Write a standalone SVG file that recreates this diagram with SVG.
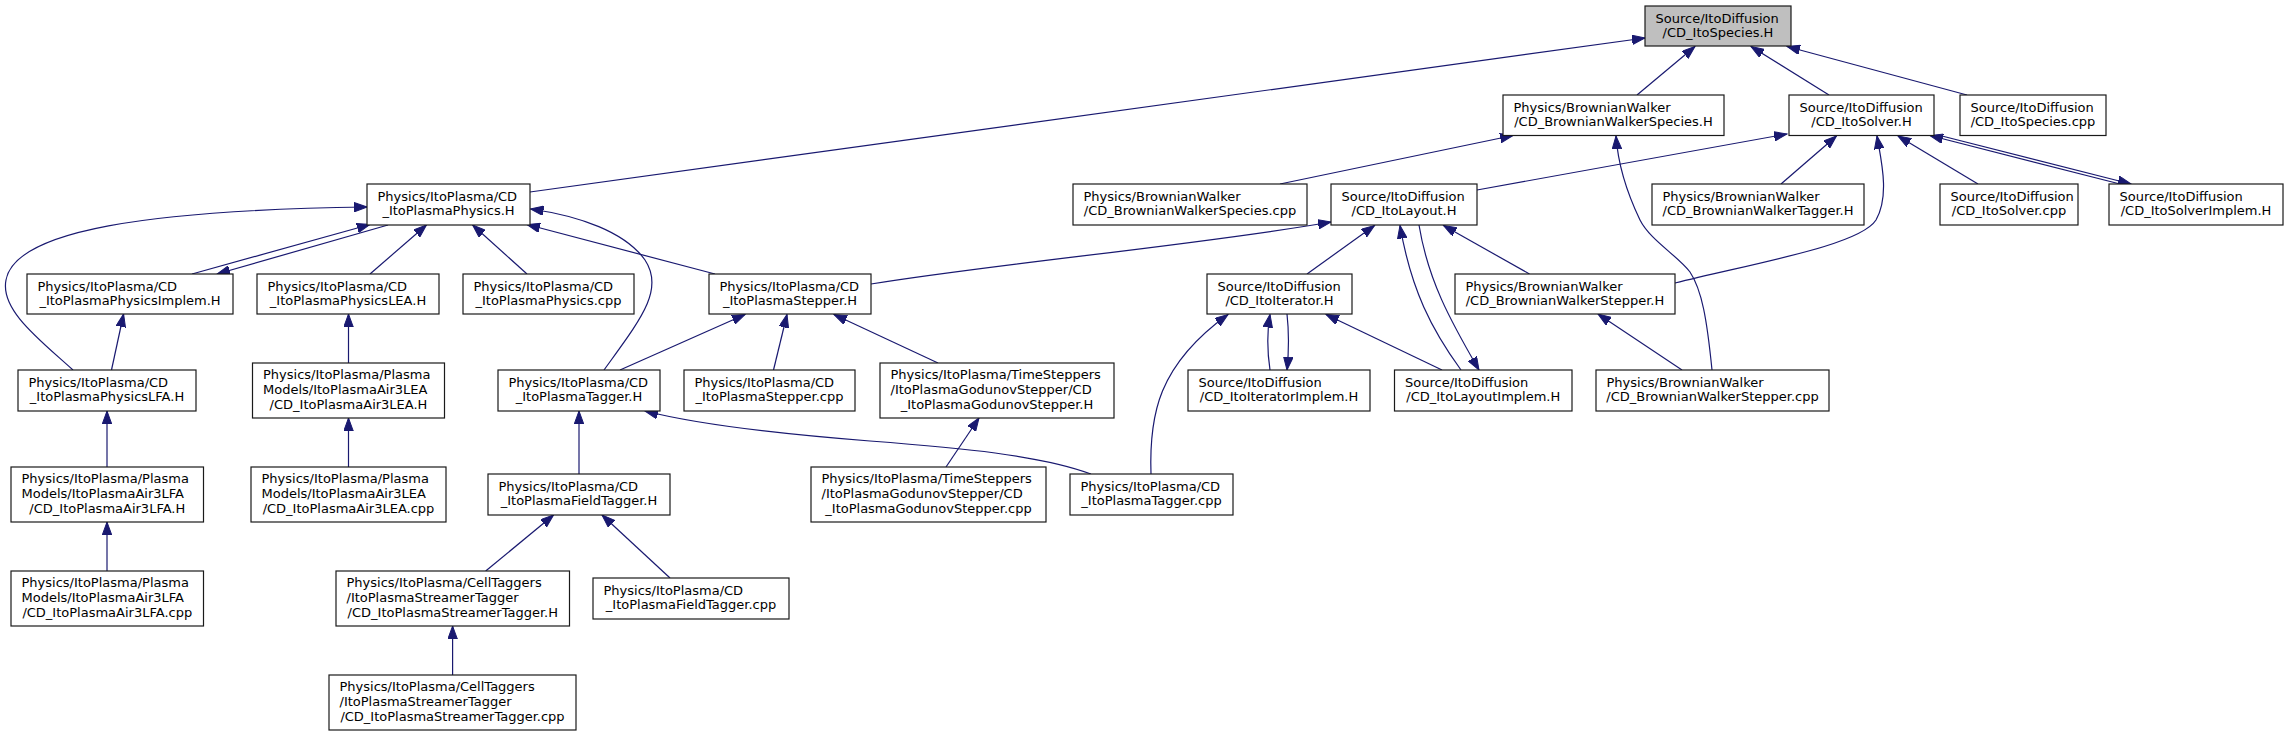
<svg xmlns="http://www.w3.org/2000/svg" width="2289" height="736" viewBox="0 0 2289 736">
<style>
.n rect{fill:#fff;stroke:#1a1a1a;stroke-width:1.2}
.n.main rect{fill:#bfbfbf}
.n text{font-family:"DejaVu Sans","Liberation Sans",sans-serif;font-size:13px;fill:#000}
.n text.c{text-anchor:middle}
#edges path{fill:none;stroke:#191970;stroke-width:1.2;marker-end:url(#ah)}
</style>
<defs>
<marker id="ah" markerUnits="userSpaceOnUse" markerWidth="14" markerHeight="10" refX="13" refY="4.75" orient="auto"><path d="M0,0 L13,4.75 L0,9.5 z" fill="#191970" stroke="#191970" stroke-width="1"/></marker>
</defs>
<rect width="2289" height="736" fill="#fff"/>
<g id="edges">
<path d="M530,192 L1645,38"/>
<path d="M1637,95 L1695,46.5"/>
<path d="M1829,95 L1751,46.5"/>
<path d="M1967,95 L1787,46.5"/>
<path d="M1280,184 L1513,135.5"/>
<path d="M1712,370 C1707,320 1702,290 1690,272 C1678,256 1650,240 1640,220 C1628,195 1618,165 1616,136"/>
<path d="M1477,190 L1787,134"/>
<path d="M1781,184 L1836.5,136"/>
<path d="M1675,283 C1760,262 1860,245 1876,220 C1890,195 1881,160 1877,136"/>
<path d="M1978,184 L1898,136"/>
<path d="M2120,184 L1930,135.5"/>
<path d="M1940,135.5 L2131,184"/>
<path d="M871,284 C1000,263 1200,245 1331,222"/>
<path d="M1307,274 L1374.5,225.5"/>
<path d="M1461,370 C1432,330 1411,290 1400,225.5"/>
<path d="M1419,225 C1428,280 1450,320 1479,370"/>
<path d="M1529.5,274 L1443.5,225.5"/>
<path d="M938,363 L834,314.5"/>
<path d="M773.5,370 L787,314.5"/>
<path d="M620,370 L745,314.5"/>
<path d="M1270,370 C1267,350 1267,332 1270,314.5"/>
<path d="M1287,314 C1289,332 1289,350 1287,370"/>
<path d="M1442,370 L1326,314.5"/>
<path d="M1151,474 C1149,415 1158,365 1228,314.5"/>
<path d="M1091,474 C1040,455 960,448 870,441 C780,434 700,425 645,411"/>
<path d="M946,467 L979,418"/>
<path d="M73,370 C40,340 0,310 6,280 C15,230 150,210 367,207"/>
<path d="M192,274 L370,224.5"/>
<path d="M388,225 L217,274"/>
<path d="M370,274 L426.5,225"/>
<path d="M527,274 L472.6,225"/>
<path d="M715,274 L527,224.5"/>
<path d="M604,370 C640,320 665,290 645,260 C625,232 580,216 530.5,209"/>
<path d="M111.5,370 L123.6,314"/>
<path d="M348.5,363 L348.5,314"/>
<path d="M348.5,467 L348.5,418"/>
<path d="M107,467 L107,411"/>
<path d="M107,571 L107,522"/>
<path d="M579,474 L579,411"/>
<path d="M485.7,571 L553.6,515"/>
<path d="M670,578 L602,515"/>
<path d="M452.6,675 L452.6,626"/>
<path d="M1682,370 L1598,314"/>
</g>
<g id="n0" class="n main"><rect x="1645" y="6" width="146" height="40"/><text x="1655.5" y="22.5">Source/ItoDiffusion</text><text class="c" x="1718" y="36.5">/CD_ItoSpecies.H</text></g>
<g id="n1" class="n"><rect x="1503" y="95" width="221" height="40.5"/><text x="1513.5" y="111.5">Physics/BrownianWalker</text><text class="c" x="1613.5" y="125.5">/CD_BrownianWalkerSpecies.H</text></g>
<g id="n2" class="n"><rect x="1789" y="95" width="145" height="40.5"/><text x="1799.5" y="111.5">Source/ItoDiffusion</text><text class="c" x="1861.5" y="125.5">/CD_ItoSolver.H</text></g>
<g id="n3" class="n"><rect x="1960" y="95" width="146" height="40.5"/><text x="1970.5" y="111.5">Source/ItoDiffusion</text><text class="c" x="2033" y="125.5">/CD_ItoSpecies.cpp</text></g>
<g id="n4" class="n"><rect x="367" y="184" width="163" height="41"/><text x="377.5" y="200.5">Physics/ItoPlasma/CD</text><text class="c" x="448.5" y="214.5">_ItoPlasmaPhysics.H</text></g>
<g id="n5" class="n"><rect x="1073" y="184" width="234" height="41"/><text x="1083.5" y="200.5">Physics/BrownianWalker</text><text class="c" x="1190" y="214.5">/CD_BrownianWalkerSpecies.cpp</text></g>
<g id="n6" class="n"><rect x="1331" y="184" width="146" height="41"/><text x="1341.5" y="200.5">Source/ItoDiffusion</text><text class="c" x="1404" y="214.5">/CD_ItoLayout.H</text></g>
<g id="n7" class="n"><rect x="1652" y="184" width="212" height="41"/><text x="1662.5" y="200.5">Physics/BrownianWalker</text><text class="c" x="1758" y="214.5">/CD_BrownianWalkerTagger.H</text></g>
<g id="n8" class="n"><rect x="1940" y="184" width="138" height="41"/><text x="1950.5" y="200.5">Source/ItoDiffusion</text><text class="c" x="2009" y="214.5">/CD_ItoSolver.cpp</text></g>
<g id="n9" class="n"><rect x="2109" y="184" width="174" height="41"/><text x="2119.5" y="200.5">Source/ItoDiffusion</text><text class="c" x="2196" y="214.5">/CD_ItoSolverImplem.H</text></g>
<g id="n10" class="n"><rect x="27" y="274" width="206" height="40"/><text x="37.5" y="290.5">Physics/ItoPlasma/CD</text><text class="c" x="130" y="304.5">_ItoPlasmaPhysicsImplem.H</text></g>
<g id="n11" class="n"><rect x="257" y="274" width="182" height="40"/><text x="267.5" y="290.5">Physics/ItoPlasma/CD</text><text class="c" x="348" y="304.5">_ItoPlasmaPhysicsLEA.H</text></g>
<g id="n12" class="n"><rect x="463" y="274" width="171" height="40"/><text x="473.5" y="290.5">Physics/ItoPlasma/CD</text><text class="c" x="548.5" y="304.5">_ItoPlasmaPhysics.cpp</text></g>
<g id="n13" class="n"><rect x="709" y="274" width="162" height="40"/><text x="719.5" y="290.5">Physics/ItoPlasma/CD</text><text class="c" x="790" y="304.5">_ItoPlasmaStepper.H</text></g>
<g id="n14" class="n"><rect x="1207" y="274" width="145" height="40"/><text x="1217.5" y="290.5">Source/ItoDiffusion</text><text class="c" x="1279.5" y="304.5">/CD_ItoIterator.H</text></g>
<g id="n15" class="n"><rect x="1455" y="274" width="220" height="40"/><text x="1465.5" y="290.5">Physics/BrownianWalker</text><text class="c" x="1565" y="304.5">/CD_BrownianWalkerStepper.H</text></g>
<g id="n16" class="n"><rect x="18" y="370" width="178" height="41"/><text x="28.5" y="386.5">Physics/ItoPlasma/CD</text><text class="c" x="107" y="400.5">_ItoPlasmaPhysicsLFA.H</text></g>
<g id="n17" class="n"><rect x="252.5" y="363" width="192" height="55"/><text x="263" y="379">Physics/ItoPlasma/Plasma</text><text x="263" y="394">Models/ItoPlasmaAir3LEA</text><text class="c" x="348.5" y="409">/CD_ItoPlasmaAir3LEA.H</text></g>
<g id="n18" class="n"><rect x="498" y="370" width="162" height="41"/><text x="508.5" y="386.5">Physics/ItoPlasma/CD</text><text class="c" x="579" y="400.5">_ItoPlasmaTagger.H</text></g>
<g id="n19" class="n"><rect x="684" y="370" width="171" height="41"/><text x="694.5" y="386.5">Physics/ItoPlasma/CD</text><text class="c" x="769.5" y="400.5">_ItoPlasmaStepper.cpp</text></g>
<g id="n20" class="n"><rect x="880" y="363" width="234" height="55"/><text x="890.5" y="379">Physics/ItoPlasma/TimeSteppers</text><text x="890.5" y="394">/ItoPlasmaGodunovStepper/CD</text><text class="c" x="997" y="409">_ItoPlasmaGodunovStepper.H</text></g>
<g id="n21" class="n"><rect x="1188" y="370" width="182" height="41"/><text x="1198.5" y="386.5">Source/ItoDiffusion</text><text class="c" x="1279" y="400.5">/CD_ItoIteratorImplem.H</text></g>
<g id="n22" class="n"><rect x="1394.5" y="370" width="177.5" height="41"/><text x="1405" y="386.5">Source/ItoDiffusion</text><text class="c" x="1483.3" y="400.5">/CD_ItoLayoutImplem.H</text></g>
<g id="n23" class="n"><rect x="1596" y="370" width="233" height="41"/><text x="1606.5" y="386.5">Physics/BrownianWalker</text><text class="c" x="1712.5" y="400.5">/CD_BrownianWalkerStepper.cpp</text></g>
<g id="n24" class="n"><rect x="11" y="467" width="192.5" height="55"/><text x="21.5" y="483">Physics/ItoPlasma/Plasma</text><text x="21.5" y="498">Models/ItoPlasmaAir3LFA</text><text class="c" x="107.3" y="513">/CD_ItoPlasmaAir3LFA.H</text></g>
<g id="n25" class="n"><rect x="251" y="467" width="195" height="55"/><text x="261.5" y="483">Physics/ItoPlasma/Plasma</text><text x="261.5" y="498">Models/ItoPlasmaAir3LEA</text><text class="c" x="348.5" y="513">/CD_ItoPlasmaAir3LEA.cpp</text></g>
<g id="n26" class="n"><rect x="488" y="474" width="182" height="41"/><text x="498.5" y="490.5">Physics/ItoPlasma/CD</text><text class="c" x="579" y="504.5">_ItoPlasmaFieldTagger.H</text></g>
<g id="n27" class="n"><rect x="811" y="467" width="235" height="55"/><text x="821.5" y="483">Physics/ItoPlasma/TimeSteppers</text><text x="821.5" y="498">/ItoPlasmaGodunovStepper/CD</text><text class="c" x="928.5" y="513">_ItoPlasmaGodunovStepper.cpp</text></g>
<g id="n28" class="n"><rect x="1070" y="474" width="163" height="41"/><text x="1080.5" y="490.5">Physics/ItoPlasma/CD</text><text class="c" x="1151.5" y="504.5">_ItoPlasmaTagger.cpp</text></g>
<g id="n29" class="n"><rect x="11" y="571" width="192.5" height="55"/><text x="21.5" y="587">Physics/ItoPlasma/Plasma</text><text x="21.5" y="602">Models/ItoPlasmaAir3LFA</text><text class="c" x="107.3" y="617">/CD_ItoPlasmaAir3LFA.cpp</text></g>
<g id="n30" class="n"><rect x="336" y="571" width="233.5" height="55"/><text x="346.5" y="587">Physics/ItoPlasma/CellTaggers</text><text x="346.5" y="602">/ItoPlasmaStreamerTagger</text><text class="c" x="452.8" y="617">/CD_ItoPlasmaStreamerTagger.H</text></g>
<g id="n31" class="n"><rect x="593" y="578" width="196" height="41"/><text x="603.5" y="594.5">Physics/ItoPlasma/CD</text><text class="c" x="691" y="608.5">_ItoPlasmaFieldTagger.cpp</text></g>
<g id="n32" class="n"><rect x="329" y="675" width="247" height="55"/><text x="339.5" y="691">Physics/ItoPlasma/CellTaggers</text><text x="339.5" y="706">/ItoPlasmaStreamerTagger</text><text class="c" x="452.5" y="721">/CD_ItoPlasmaStreamerTagger.cpp</text></g>
</svg>
